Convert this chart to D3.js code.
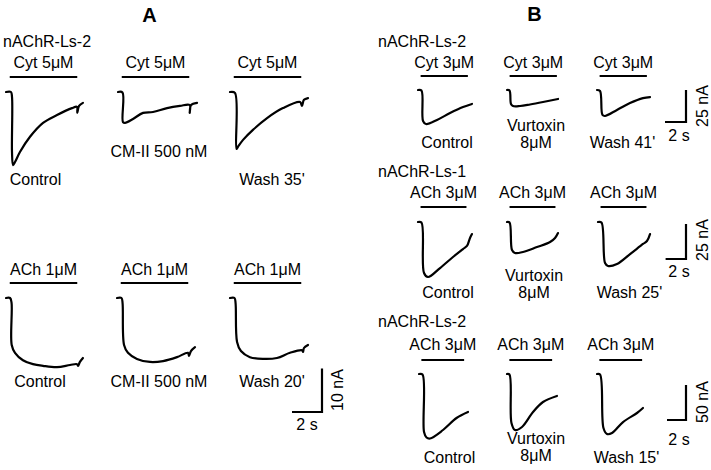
<!DOCTYPE html>
<meta charset="utf-8">
<head>
	<style>
		body { margin: 0; background: #fff; }
		text { font-family: "Liberation Sans", Arial, sans-serif; font-size: 16px; fill: #000; }
		.trace { fill: none; stroke: #000; stroke-width: 2.2; stroke-linejoin: round; stroke-linecap: round; }
		.bar, .scale { stroke: #000; stroke-width: 2.2; fill: none; }
		.panel { font-weight: bold; font-size: 20px; }
	</style>
	<script src="https://cdn.jsdelivr.net/npm/d3@7"></script>
</head>
<body>
<script>

	// agonist application window (s), same protocol for every trace
	var application = [0.25, 4.75];

	var panelLetters = ["A", "B"];
	var receptorA = ["nAChR-Ls-2"];
	var receptorB = ["nAChR-Ls-2", "nAChR-Ls-1", "nAChR-Ls-2"];
	var agonistA = ["Cyt 5μM", "ACh 1μM"];
	var agonistB = ["Cyt 3μM", "ACh 3μM", "ACh 3μM"];
	var conditionsA = [["Control", "CM-II 500 nM", "Wash 35'"], ["Control", "CM-II 500 nM", "Wash 20'"]];
	var conditionsB = [["Control", "Vurtoxin|8μM", "Wash 41'"], ["Control", "Vurtoxin|8μM", "Wash 25'"], ["Control", "Vurtoxin|8μM", "Wash 15'"]];
	// scale bars [nA, s]
	var scaleA = [10, 2];
	var scaleB = [[25, 2], [25, 2], [50, 2]];

	// current traces, [time s, current nA]
	var tracesA1 = [
		[[0,0],[.33,0],[.4,-1.1],[.4,-13.8],[.47,-16.8],[.6,-16.1],[.93,-13.8],[1.6,-10.3],[2.47,-7.1],[3.4,-5.3],[4.4,-3.7],[4.73,-3.4],[4.75,-4.8],[4.87,-3.2],[5.13,-2.5]],
		[[0,0],[.3,-.1],[.33,-6.9],[.47,-7.1],[1.0,-6.2],[1.67,-4.8],[2.33,-4.6],[3.27,-3.7],[4.13,-3.2],[4.78,-3.0],[4.78,-4.8],[4.87,-3.0],[5.27,-2.5]],
		[[0,0],[.33,-.2],[.43,-13.1],[.53,-12.6],[.87,-11.0],[1.53,-8.7],[2.47,-6.0],[3.53,-3.7],[4.67,-2.3],[4.8,-3.2],[4.93,-1.8],[5.2,-1.4]]
	];
	var tracesA2 = [
		[[0,0],[.27,0],[.37,-1.1],[.38,-10.8],[.6,-12.6],[1.13,-14.3],[1.8,-15.2],[2.47,-15.6],[3.4,-15.9],[4.27,-15.4],[4.73,-15.2],[4.8,-15.6],[4.93,-14.7],[5.13,-13.8]],
		[[0,0],[.3,0],[.37,-1.1],[.47,-10.8],[.73,-12.6],[1.33,-14.0],[2.2,-14.7],[3.07,-14.5],[4.0,-13.6],[4.73,-12.6],[4.8,-13.3],[4.93,-12.2],[5.2,-11.3]],
		[[0,0],[.3,0],[.37,-1.1],[.47,-10.1],[.73,-12.2],[1.33,-13.6],[2.2,-14.0],[3.13,-13.8],[4.0,-12.6],[4.8,-12.0],[4.87,-12.4],[4.93,-11.5],[5.2,-10.8]]
	];
	var tracesB1 = [
		[[0,0],[.33,-.4],[.48,-24.2],[.76,-26.6],[1.81,-23.4],[3.05,-18.0],[4.29,-13.3],[5.14,-10.9]],
		[[0,0],[.24,-.4],[.38,-10.9],[.57,-12.5],[1.24,-12.5],[2.19,-11.3],[3.43,-9.4],[4.86,-7.0]],
		[[0,0],[.29,-.8],[.52,-19.5],[.76,-20.3],[1.9,-15.6],[3.14,-10.2],[4.38,-6.3],[5.05,-5.5]]
	];
	var tracesB2 = [
		[[0,0],[.34,-.4],[.59,-36.4],[.98,-39.3],[2.16,-32.9],[3.43,-25.0],[4.41,-19.3],[4.8,-17.1],[5.1,-11.4],[5.29,-8.6]],
		[[0,0],[.25,-.4],[.49,-20.0],[.78,-22.1],[1.57,-21.4],[2.94,-17.9],[4.22,-14.3],[4.71,-11.4],[5.0,-7.9]],
		[[0,0],[.34,-.4],[.69,-29.3],[.98,-31.4],[1.86,-30.0],[3.14,-22.9],[4.41,-15.7],[4.8,-13.6],[5.1,-8.6]]
	];
	var tracesB3 = [
		[[0,0],[.37,-.7],[.53,-82.9],[.79,-90.7],[1.16,-92.1],[2.53,-80.0],[3.95,-62.9],[5.16,-54.3]],
		[[0,0],[.26,-.7],[.47,-70.0],[.84,-80.0],[1.58,-75.7],[2.74,-54.3],[3.79,-40.0],[5.26,-31.4]],
		[[0,0],[.32,-.7],[.68,-77.1],[1.05,-85.7],[1.58,-84.3],[2.74,-68.6],[4.21,-55.7],[4.84,-48.6]]
	];

	// layout of every row of traces
	var rows = [
		{traces: tracesA1, agonist: agonistA[0], cond: conditionsA[0], pxS: 15, pxNA: 4.35, x0: [6, 118, 230], y0: 92, barY: 77, agY: 68,
			condX: [35.5, 159, 272], condY: [185, 157, 185]},
		{traces: tracesA2, agonist: agonistA[1], cond: conditionsA[1], pxS: 15, pxNA: 4.35, x0: [6, 117, 230], y0: 298, barY: 283, agY: 275,
			condX: [40, 159, 272], condY: [387, 387, 387], scale: scaleA, sc: [322, 412, 307, 430, 343, 390]},
		{traces: tracesB1, agonist: agonistB[0], cond: conditionsB[0], pxS: 10.5, pxNA: 1.28, x0: [418, 507, 597], y0: 90, barY: 76, agY: 68,
			condX: [447, 536, 622.5], condY: [148, 131, 148], scale: scaleB[0], sc: [686, 122, 679, 141, 708, 106],
			receptor: receptorB[0], recY: 47},
		{traces: tracesB2, agonist: agonistB[1], cond: conditionsB[1], pxS: 10.2, pxNA: 1.4, x0: [418, 507, 598], y0: 222, barY: 207, agY: 198,
			condX: [448, 534, 629.5], condY: [298, 281, 298], scale: scaleB[1], sc: [686, 259, 679, 277, 708, 240],
			receptor: receptorB[1], recY: 177},
		{traces: tracesB3, agonist: agonistB[2], cond: conditionsB[2], pxS: 9.5, pxNA: 0.7, x0: [419, 507, 597], y0: 374, barY: 360, agY: 350,
			condX: [449.5, 536, 626.5], condY: [463, 444, 463], scale: scaleB[2], sc: [686, 420, 679, 445, 708, 402],
			receptor: receptorB[2], recY: 327}
	];

	var width = 711, height = 470;

	var svg = d3.select("body").append("svg")
		.attr("width", width)
		.attr("height", height);

	svg.append("text").attr("class", "panel").attr("x", 149.5).attr("y", 22)
		.attr("text-anchor", "middle").text(panelLetters[0]);
	svg.append("text").attr("class", "panel").attr("x", 534.5).attr("y", 21)
		.attr("text-anchor", "middle").text(panelLetters[1]);
	svg.append("text").attr("x", 3).attr("y", 47).text(receptorA[0]);

	rows.forEach(function(row) {
		var x = d3.scaleLinear().domain([0, 1]).range([0, row.pxS]),
			y = d3.scaleLinear().domain([0, -1]).range([0, row.pxNA]);

		var line = d3.line()
			.x(function(d) { return x(d[0]) })
			.y(function(d) { return y(d[1]) })
			.curve(d3.curveCatmullRom.alpha(0.5));

		if (row.receptor) svg.append("text").attr("x", 378).attr("y", row.recY).text(row.receptor);

		row.traces.forEach(function(tr, i) {
			var g = svg.append("g").attr("transform", "translate(" + row.x0[i] + "," + row.y0 + ")");
			g.append("path").attr("class", "trace").attr("d", line(tr));

			var b0 = row.x0[i] + x(application[0]),
				b1 = row.x0[i] + x(application[1]);
			svg.append("line").attr("class", "bar")
				.attr("x1", b0).attr("x2", b1)
				.attr("y1", row.barY).attr("y2", row.barY);
			svg.append("text").attr("x", (b0 + b1) / 2).attr("y", row.agY)
				.attr("text-anchor", "middle").text(row.agonist);

			var parts = row.cond[i].split("|");
			parts.forEach(function(p, k) {
				svg.append("text").attr("x", row.condX[i]).attr("y", row.condY[i] + k * 17)
					.attr("text-anchor", "middle").text(p);
			});
		});

		if (row.scale) {
			var s = row.sc, h = y(-row.scale[0]), w = x(row.scale[1]);
			svg.append("path").attr("class", "scale")
				.attr("d", "M" + (s[0] - w) + "," + s[1] + "H" + s[0] + "V" + (s[1] - h));
			svg.append("text").attr("x", s[2]).attr("y", s[3])
				.attr("text-anchor", "middle").text(row.scale[1] + " s");
			svg.append("text").attr("text-anchor", "middle")
				.attr("transform", "translate(" + s[4] + "," + s[5] + ")rotate(-90)")
				.text(row.scale[0] + " nA");
		}
	});

</script>
</body>
